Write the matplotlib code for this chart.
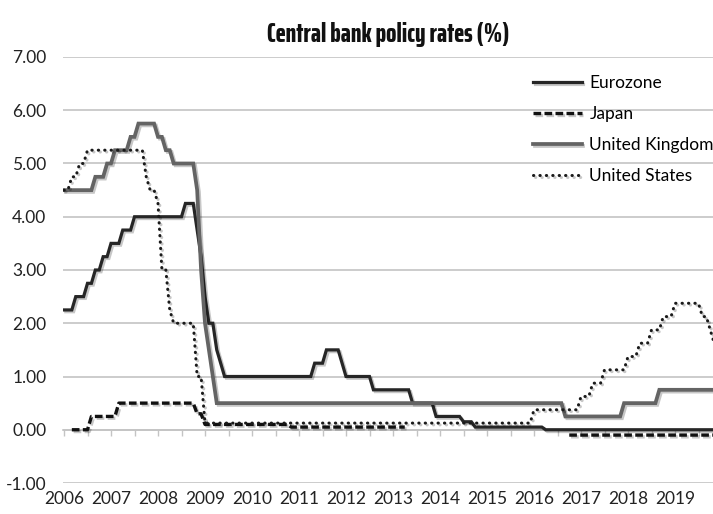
import matplotlib
matplotlib.use("Agg")
import matplotlib.pyplot as plt
import matplotlib.patheffects as pe
import numpy as np
import pandas as pd

nan = np.nan

# monthly policy rates, Jan 2006 .. Nov 2019 (value in force at start of month)
months = pd.period_range("2006-01", "2019-11", freq="M")

eurozone = [
    2.25, 2.25, 2.25, 2.5, 2.5, 2.5, 2.75, 2.75, 3.0, 3.0, 3.25, 3.25,  # 2006
    3.5, 3.5, 3.5, 3.75, 3.75, 3.75, 4.0, 4.0, 4.0, 4.0, 4.0, 4.0,  # 2007
    4.0, 4.0, 4.0, 4.0, 4.0, 4.0, 4.0, 4.25, 4.25, 4.25, 3.75, 3.25,  # 2008
    2.5, 2.0, 2.0, 1.5, 1.25, 1.0, 1.0, 1.0, 1.0, 1.0, 1.0, 1.0,  # 2009
    1.0, 1.0, 1.0, 1.0, 1.0, 1.0, 1.0, 1.0, 1.0, 1.0, 1.0, 1.0,  # 2010
    1.0, 1.0, 1.0, 1.0, 1.25, 1.25, 1.25, 1.5, 1.5, 1.5, 1.5, 1.25,  # 2011
    1.0, 1.0, 1.0, 1.0, 1.0, 1.0, 1.0, 0.75, 0.75, 0.75, 0.75, 0.75,  # 2012
    0.75, 0.75, 0.75, 0.75, 0.75, 0.5, 0.5, 0.5, 0.5, 0.5, 0.5, 0.25,  # 2013
    0.25, 0.25, 0.25, 0.25, 0.25, 0.25, 0.15, 0.15, 0.15, 0.05, 0.05, 0.05,  # 2014
    0.05, 0.05, 0.05, 0.05, 0.05, 0.05, 0.05, 0.05, 0.05, 0.05, 0.05, 0.05,  # 2015
    0.05, 0.05, 0.05, 0.0, 0.0, 0.0, 0.0, 0.0, 0.0, 0.0, 0.0, 0.0,  # 2016
    0.0, 0.0, 0.0, 0.0, 0.0, 0.0, 0.0, 0.0, 0.0, 0.0, 0.0, 0.0,  # 2017
    0.0, 0.0, 0.0, 0.0, 0.0, 0.0, 0.0, 0.0, 0.0, 0.0, 0.0, 0.0,  # 2018
    0.0, 0.0, 0.0, 0.0, 0.0, 0.0, 0.0, 0.0, 0.0, 0.0, 0.0,  # 2019
]

japan = [
    nan, nan, 0.0, 0.0, 0.0, 0.0, 0.0, 0.25, 0.25, 0.25, 0.25, 0.25,
    0.25, 0.25, 0.5, 0.5, 0.5, 0.5, 0.5, 0.5, 0.5, 0.5, 0.5, 0.5,
    0.5, 0.5, 0.5, 0.5, 0.5, 0.5, 0.5, 0.5, 0.5, 0.5, 0.3, 0.3,
    0.1, 0.1, 0.1, 0.1, 0.1, 0.1, 0.1, 0.1, 0.1, 0.1, 0.1, 0.1,
    0.1, 0.1, 0.1, 0.1, 0.1, 0.1, 0.1, 0.1, 0.1, 0.1, 0.05, 0.05,
    0.05, 0.05, 0.05, 0.05, 0.05, 0.05, 0.05, 0.05, 0.05, 0.05, 0.05, 0.05,
    0.05, 0.05, 0.05, 0.05, 0.05, 0.05, 0.05, 0.05, 0.05, 0.05, 0.05, 0.05,
    0.05, 0.05, 0.05, 0.05, nan, nan, nan, nan, nan, nan, nan, nan,
    nan, nan, nan, nan, nan, nan, nan, nan, nan, nan, nan, nan,
    nan, nan, nan, nan, nan, nan, nan, nan, nan, nan, nan, nan,
    nan, nan, nan, nan, nan, nan, nan, nan, nan, -0.1, -0.1, -0.1,
    -0.1, -0.1, -0.1, -0.1, -0.1, -0.1, -0.1, -0.1, -0.1, -0.1, -0.1, -0.1,
    -0.1, -0.1, -0.1, -0.1, -0.1, -0.1, -0.1, -0.1, -0.1, -0.1, -0.1, -0.1,
    -0.1, -0.1, -0.1, -0.1, -0.1, -0.1, -0.1, -0.1, -0.1, -0.1, -0.1,
]

uk = [
    4.5, 4.5, 4.5, 4.5, 4.5, 4.5, 4.5, 4.5, 4.75, 4.75, 4.75, 5.0,
    5.0, 5.25, 5.25, 5.25, 5.25, 5.5, 5.5, 5.75, 5.75, 5.75, 5.75, 5.75,
    5.5, 5.5, 5.25, 5.25, 5.0, 5.0, 5.0, 5.0, 5.0, 5.0, 4.5, 3.0,
    2.0, 1.5, 1.0, 0.5, 0.5, 0.5, 0.5, 0.5, 0.5, 0.5, 0.5, 0.5,
    0.5, 0.5, 0.5, 0.5, 0.5, 0.5, 0.5, 0.5, 0.5, 0.5, 0.5, 0.5,
    0.5, 0.5, 0.5, 0.5, 0.5, 0.5, 0.5, 0.5, 0.5, 0.5, 0.5, 0.5,
    0.5, 0.5, 0.5, 0.5, 0.5, 0.5, 0.5, 0.5, 0.5, 0.5, 0.5, 0.5,
    0.5, 0.5, 0.5, 0.5, 0.5, 0.5, 0.5, 0.5, 0.5, 0.5, 0.5, 0.5,
    0.5, 0.5, 0.5, 0.5, 0.5, 0.5, 0.5, 0.5, 0.5, 0.5, 0.5, 0.5,
    0.5, 0.5, 0.5, 0.5, 0.5, 0.5, 0.5, 0.5, 0.5, 0.5, 0.5, 0.5,
    0.5, 0.5, 0.5, 0.5, 0.5, 0.5, 0.5, 0.5, 0.25, 0.25, 0.25, 0.25,
    0.25, 0.25, 0.25, 0.25, 0.25, 0.25, 0.25, 0.25, 0.25, 0.25, 0.25, 0.5,
    0.5, 0.5, 0.5, 0.5, 0.5, 0.5, 0.5, 0.5, 0.75, 0.75, 0.75, 0.75,
    0.75, 0.75, 0.75, 0.75, 0.75, 0.75, 0.75, 0.75, 0.75, 0.75, 0.75,
]

us = [
    4.5, 4.5, 4.75, 4.75, 5.0, 5.0, 5.25, 5.25, 5.25, 5.25, 5.25, 5.25,
    5.25, 5.25, 5.25, 5.25, 5.25, 5.25, 5.25, 5.25, 5.25, 4.75, 4.5, 4.5,
    4.25, 3.0, 3.0, 2.25, 2.0, 2.0, 2.0, 2.0, 2.0, 2.0, 1.0, 1.0,
    0.125, 0.125, 0.125, 0.125, 0.125, 0.125, 0.125, 0.125, 0.125, 0.125, 0.125, 0.125,
    0.125, 0.125, 0.125, 0.125, 0.125, 0.125, 0.125, 0.125, 0.125, 0.125, 0.125, 0.125,
    0.125, 0.125, 0.125, 0.125, 0.125, 0.125, 0.125, 0.125, 0.125, 0.125, 0.125, 0.125,
    0.125, 0.125, 0.125, 0.125, 0.125, 0.125, 0.125, 0.125, 0.125, 0.125, 0.125, 0.125,
    0.125, 0.125, 0.125, 0.125, 0.125, 0.125, 0.125, 0.125, 0.125, 0.125, 0.125, 0.125,
    0.125, 0.125, 0.125, 0.125, 0.125, 0.125, 0.125, 0.125, 0.125, 0.125, 0.125, 0.125,
    0.125, 0.125, 0.125, 0.125, 0.125, 0.125, 0.125, 0.125, 0.125, 0.125, 0.125, 0.125,
    0.375, 0.375, 0.375, 0.375, 0.375, 0.375, 0.375, 0.375, 0.375, 0.375, 0.375, 0.375,
    0.625, 0.625, 0.625, 0.875, 0.875, 0.875, 1.125, 1.125, 1.125, 1.125, 1.125, 1.125,
    1.375, 1.375, 1.375, 1.625, 1.625, 1.625, 1.875, 1.875, 1.875, 2.125, 2.125, 2.125,
    2.375, 2.375, 2.375, 2.375, 2.375, 2.375, 2.375, 2.125, 2.125, 1.875, 1.625,
]

years = list(range(2006, 2020))
y_ticks = list(range(-1, 8))

x = np.array([p.year + (p.month - 1) / 12 for p in months])

W, H = 713, 514
fig = plt.figure(figsize=(W / 100, H / 100), dpi=100)
ax = fig.add_axes([63 / W, 1 - 483 / H, 650 / W, 426 / H])

shadow = [pe.SimpleLineShadow(offset=(1.3, -1.3), shadow_color="k", alpha=0.22), pe.Normal()]

ax.plot(x, eurozone, color="#262626", lw=2.3, label="Eurozone",
        solid_joinstyle="miter", path_effects=shadow, zorder=3)
ax.plot(x, japan, color="#111111", lw=2.4, ls=(0, (2.3, 1.0)), label="Japan",
        path_effects=shadow, zorder=3)
ax.plot(x, uk, color="#646464", lw=2.7, label="United Kingdom",
        solid_joinstyle="miter", path_effects=shadow, zorder=3)
ax.plot(x, us, color="#1a1a1a", lw=2.2, ls=(0, (0.1, 2.0)), dash_capstyle="round",
        label="United States", path_effects=shadow, zorder=4)

ax.set_xlim(2006 - 1 / 47, 2006 + 649 / 47)
ax.set_ylim(-1, 7)

font = "Lato"
ax.set_yticks(y_ticks, [f"{v:.2f}" for v in y_ticks], fontfamily=font, fontsize=12.5)
ax.tick_params(axis="y", length=0, pad=12, colors="#222222")
ax.grid(axis="y", color="#c4c4c4", lw=1.2)
ax.set_axisbelow(True)

for s in ("left", "right", "top"):
    ax.spines[s].set_visible(False)
ax.spines["bottom"].set_position(("data", 0))
ax.spines["bottom"].set_color("#c4c4c4")
ax.spines["bottom"].set_linewidth(1.2)
ax.set_xticks(np.arange(2006, 2020, 0.5))
ax.tick_params(axis="x", direction="out", length=4, width=1.0, color="#c4c4c4",
               labelbottom=False)

sec = ax.secondary_xaxis(0)
sec.set_xticks(years, [str(y) for y in years], fontfamily=font, fontsize=12.5)
sec.tick_params(length=0, pad=6, colors="#222222")
sec.spines["bottom"].set_visible(False)

ax.set_title("Central bank policy rates (%)", fontfamily="Saira ExtraCondensed",
             fontweight=800, fontsize=19.5, pad=11, color="#111111")

ax.legend(loc="upper left", bbox_to_anchor=(533 / W, 1 - 75 / H),
          bbox_transform=fig.transFigure, frameon=False, handlelength=2.8,
          handletextpad=0.45, labelspacing=0.87, borderpad=0, borderaxespad=0,
          prop={"family": font, "size": 12.5})

fig.savefig("out.png", dpi=100)
